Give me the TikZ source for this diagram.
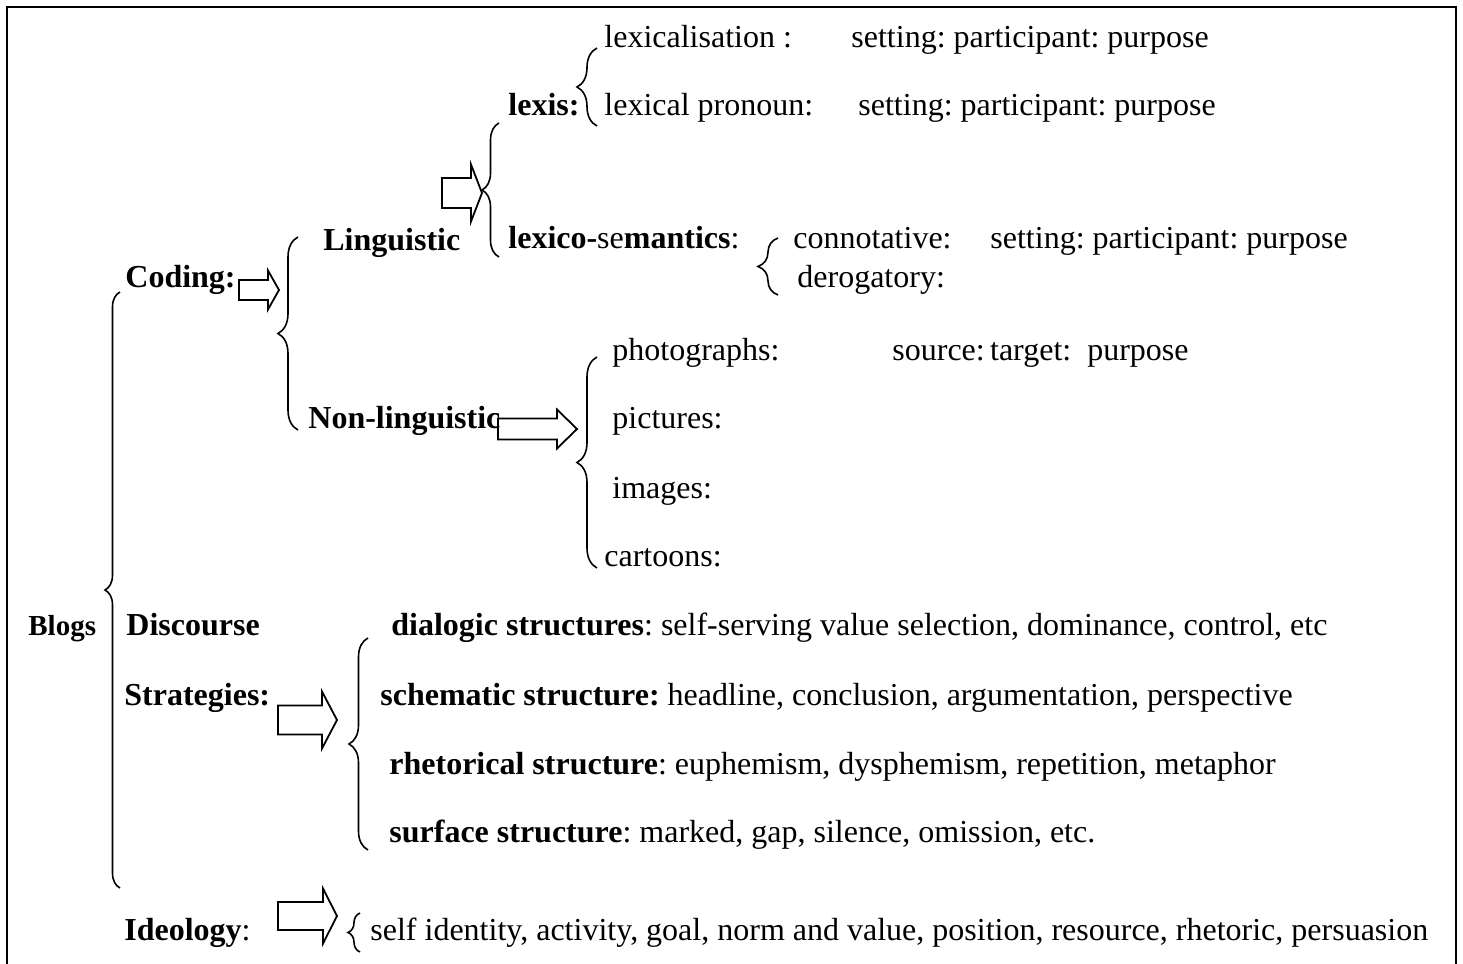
\documentclass[tikz,border=0pt]{standalone}
\usepackage{fontspec}
\setmainfont{Liberation Serif}
\usetikzlibrary{decorations.pathreplacing, positioning}
\frenchspacing

\tikzset{
    pics/hollowarrow/.style n args={4}{code={
        \draw[line width=0.9pt] (-#1,-#4) -- (-#2,-#4) -- (-#2,-#3) -- (0,0)
            -- (-#2,#3) -- (-#2,#4) -- (-#1,#4) -- cycle;
    }}
}

\begin{document}
\begin{tikzpicture}[
    x=0.5pt, y=-0.5pt,
    txt/.style={anchor=base west, inner sep=0pt, font=\fontsize{16}{19}\selectfont},
    hd/.style={txt, font=\fontsize{16}{19}\selectfont\bfseries},
    brc/.style={decorate, decoration={brace, amplitude=#1}, line width=0.8pt}
]
\useasboundingbox (0,0) rectangle (1463,964);
% frame (open at the bottom)
\draw[line width=1.3pt] (7,964) -- (7,7) -- (1456,7) -- (1456,964);

% root
\node[txt, font=\fontsize{14.5}{17}\selectfont\bfseries] (blogs) at (28,635) {Blogs};

% coding branch
\node[hd] (coding) at (125,287) {Coding:};
\node[hd] (ling) at (323,250) {Linguistic};
\node[hd] (nonling) at (308,428) {Non-linguistic};
\node[hd] (lexis) at (508,115) {lexis:};
\node[txt] (lexsem) at (508,248) {\textbf{lexico-}se\textbf{mantics}:};
\node[txt] (lexical) at (604,47) {lexicalisation :};
\node[txt] (setA) at (851,47) {setting: participant: purpose};
\node[txt] (pronoun) at (604,115) {lexical pronoun:};
\node[txt] (setB) at (858,115) {setting: participant: purpose};
\node[txt] (connot) at (793,248) {connotative:};
\node[txt] (setC) at (990,248) {setting: participant: purpose};
\node[txt] (derog) at (797,287) {derogatory:};
\node[txt] (photo) at (612,360) {photographs:};
\node[txt] (source) at (892,360) {source:\,target:\ \ purpose};
\node[txt] (pict) at (612,428) {pictures:};
\node[txt] (images) at (612,498) {images:};
\node[txt] (cartoon) at (604,566) {cartoons:};

% discourse branch
\node[hd] (disc) at (126,635) {Discourse};
\node[hd] (strat) at (124,705) {Strategies:};
\node[txt] (dialogic) at (391,635) {\textbf{dialogic structures}: self-serving value selection, dominance, control, etc};
\node[txt] (schema) at (380,705) {\textbf{schematic structure:} headline, conclusion, argumentation, perspective};
\node[txt] (rhet) at (389,774) {\textbf{rhetorical structure}: euphemism, dysphemism, repetition, metaphor};
\node[txt] (surf) at (389,842) {\textbf{surface structure}: marked, gap, silence, omission, etc.};

% ideology branch
\node[txt] (ideo) at (124,940) {\textbf{Ideology}:};
\node[txt] (self) at (370,940) {self identity, activity, goal, norm and value, position, resource, rhetoric, persuasion};

% block arrows: length, head length, head half-width, body half-width
\pic (arrCoding) at (279,290) {hollowarrow={40}{11}{19.5}{10}};
\pic (arrLing) at (482,193) {hollowarrow={40}{11}{28.5}{15}};
\pic (arrNonling) at (577,429) {hollowarrow={79}{20}{19.5}{10.5}};
\pic (arrStrat) at (337,720) {hollowarrow={59}{15}{28.5}{14.5}};
\pic (arrIdeo) at (337,916) {hollowarrow={59}{14}{27.5}{14}};

% brace ends
\coordinate (bBlogsT) at (120,292);   \coordinate (bBlogsB) at (120,888);
\coordinate (bCodT) at (298,237);     \coordinate (bCodB) at (298,430);
\coordinate (bLingT) at (499,123);    \coordinate (bLingB) at (499,257);
\coordinate (bLexT) at (597,48);      \coordinate (bLexB) at (597,126);
\coordinate (bConnT) at (778,238);    \coordinate (bConnB) at (778,295);
\coordinate (bPhotoT) at (597,357);   \coordinate (bPhotoB) at (597,568);
\coordinate (bStructT) at (368,638);  \coordinate (bStructB) at (368,850);
\coordinate (bIdeoT) at (360,913);    \coordinate (bIdeoB) at (360,952);

\draw[brc=7.5pt] (bBlogsB) -- (bBlogsT);
\draw[brc=10pt] (bCodB) -- (bCodT);
\draw[brc=8.5pt] (bLingB) -- (bLingT);
\draw[brc=10pt] (bLexB) -- (bLexT);
\draw[brc=10pt] (bConnB) -- (bConnT);
\draw[brc=10pt] (bPhotoB) -- (bPhotoT);
\draw[brc=9.5pt] (bStructB) -- (bStructT);
\draw[brc=6pt] (bIdeoB) -- (bIdeoT);
\end{tikzpicture}
\end{document}
